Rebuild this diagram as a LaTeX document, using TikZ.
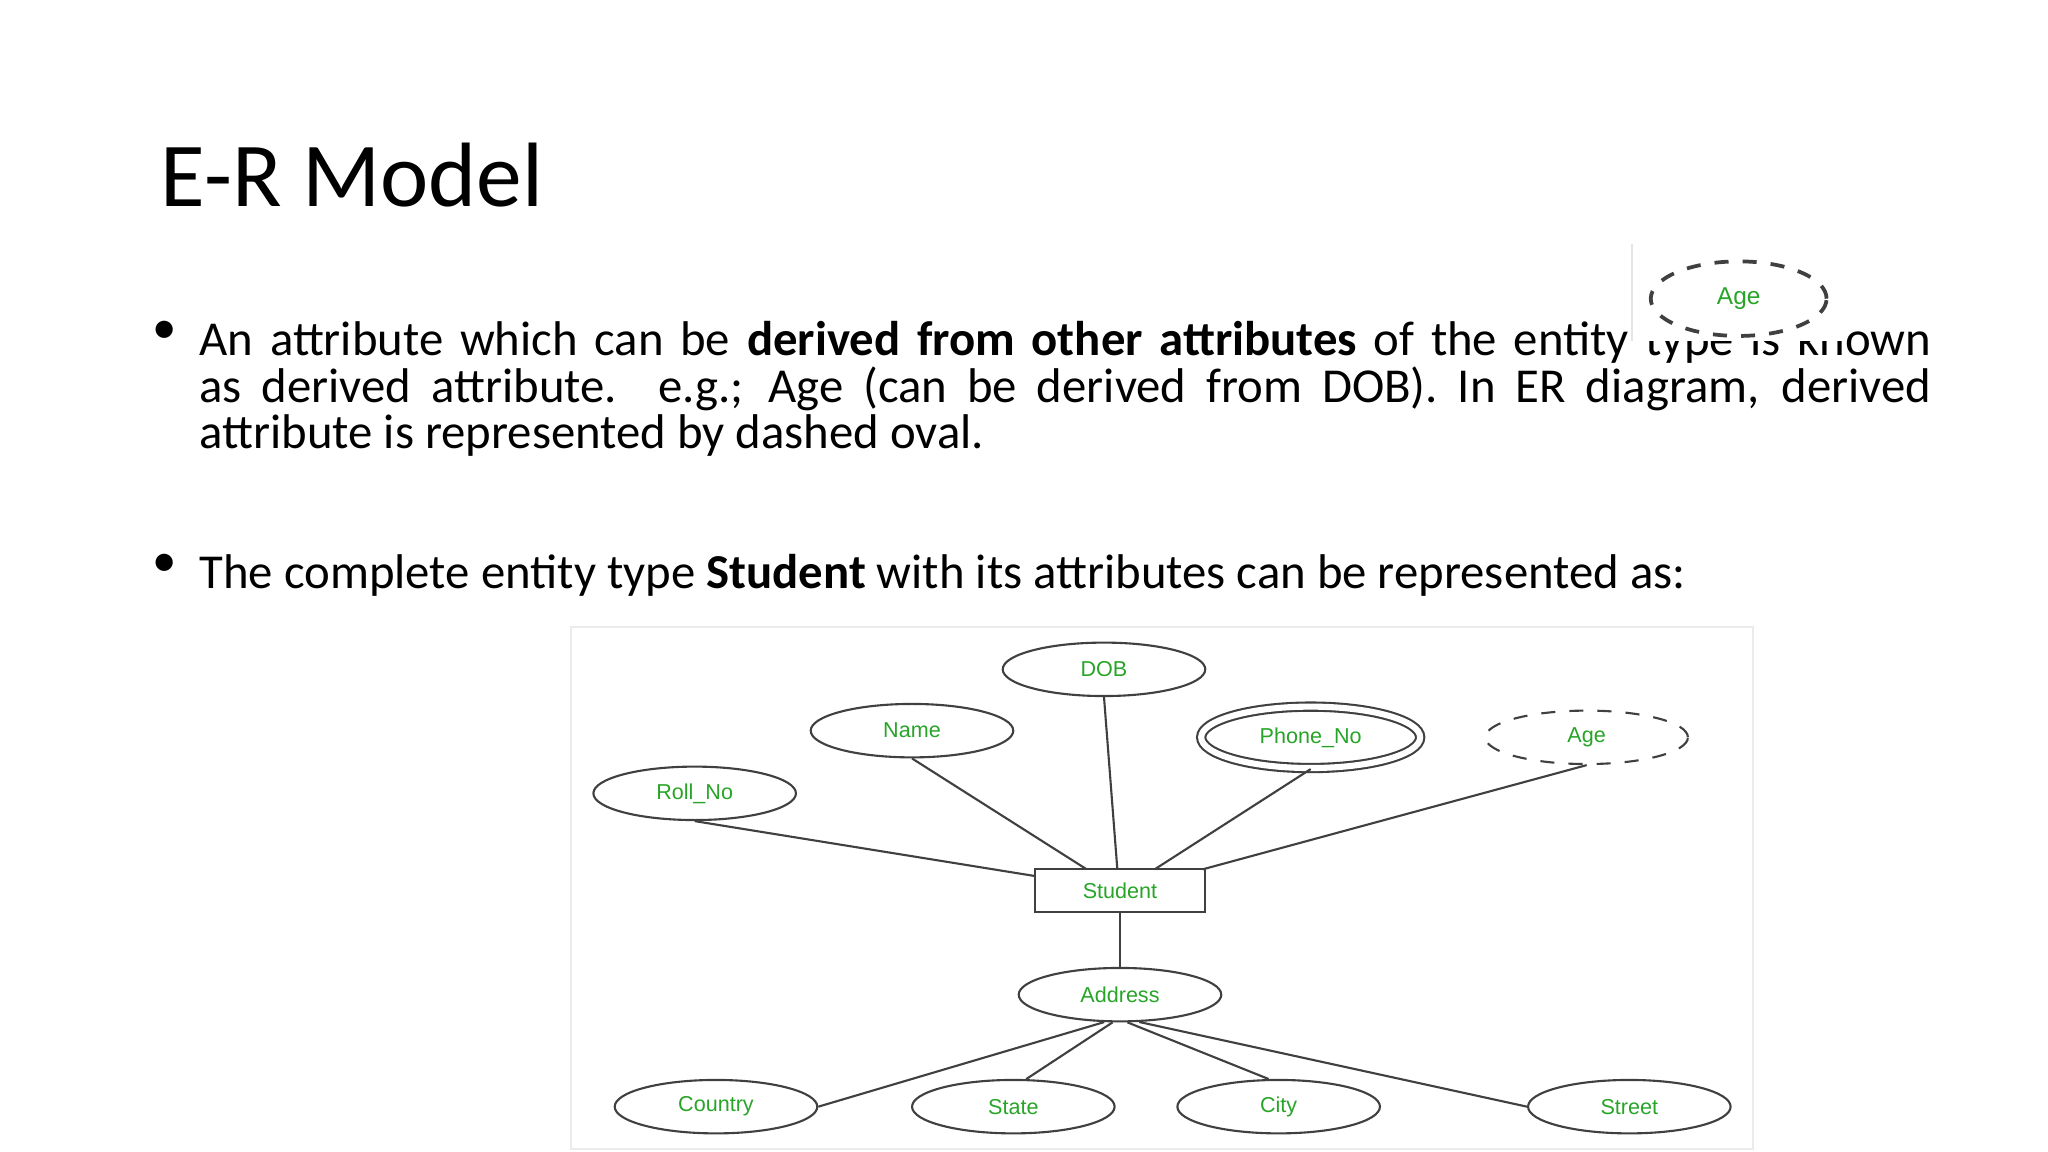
\documentclass[tikz,border=0pt]{standalone}
\usepackage{fontspec}
\setmainfont{Carlito}
\newfontfamily\lab{Liberation Sans}
\usetikzlibrary{shapes.geometric}
\definecolor{lg}{RGB}{40,165,40}
\begin{document}
\begin{tikzpicture}[x=0.01cm,y=-0.01cm,
 attr/.style={draw=black!75,ellipse,minimum width=43.2pt,minimum height=11.4pt,inner sep=0pt,font=\lab\fontsize{4.6}{5}\selectfont,text=lg,line width=0.45pt},
 conn/.style={draw=black!75,line width=0.45pt},
 body/.style={inner sep=0,font=\fontsize{10.4}{10}\selectfont}]
\useasboundingbox (0,0) rectangle (1536,864);
\fill[white] (0,0) rectangle (1536,864);
\node[anchor=base west,font=\fontsize{19.5}{22}\selectfont,inner sep=0] (title) at (120,155) {E-R Model};
\node[body,anchor=north west,text width=12.98cm,align=justify] (p1) at (149,240)
 {\hyphenpenalty=10000 An attribute which can be \textbf{derived from other attributes} of the entity type is known\linebreak as derived attribute. e.g.; Age (can be derived from DOB). In ER diagram, derived\linebreak attribute is represented by dashed oval.};
\node[body,anchor=north east] (b1) at (133,240) {•};
\node[body,anchor=north west] (p2) at (149,415)
 {The complete entity type \textbf{Student} with its attributes can be represented as:};
\node[body,anchor=north east] (b2) at (133,415) {•};
% inset Age
\fill[white] (1224,183) rectangle (1384,256);
\draw[black!10] (1224,183) -- (1224,256);
\node[attr,dashed,minimum width=37.5pt,minimum height=15.9pt,line width=0.8pt,font=\lab\fontsize{5.2}{6}\selectfont] (agetop) at (1304,224) {Age};
% diagram
\draw[black!8,fill=white] (428,470) rectangle (1315,862);
\node[attr] (dob) at (828,502) {DOB};
\node[attr] (name) at (684,548) {Name};
\node[attr,double,double distance=1.3pt,minimum width=46.7pt,minimum height=13.1pt] (phone) at (983,553) {Phone\_No};
\node[attr,dashed] (age) at (1190,553) {Age};
\node[attr] (roll) at (521,595) {Roll\_No};
\node[draw=black!75,line width=0.45pt,minimum width=36.4pt,minimum height=9.1pt,inner sep=0,font=\lab\fontsize{4.6}{5}\selectfont,text=lg] (stu) at (840,668) {Student};
\node[attr] (addr) at (840,746) {Address};
\node[attr] (country) at (537,830) {Country};
\node[attr] (state) at (760,830) {State};
\node[attr] (city) at (959,830) {City};
\node[attr] (street) at (1222,830) {Street};
\coordinate (s1) at (776,657);
\coordinate (s2) at (815,652);
\coordinate (s3) at (838,652);
\coordinate (s4) at (866,652);
\coordinate (s5) at (902,652);
\draw[conn] (roll.south) -- (s1);
\draw[conn] (name.south) -- (s2);
\draw[conn] (dob.south) -- (s3);
\draw[conn] (phone.south) -- (s4);
\draw[conn] (age.south) -- (s5);
\draw[conn] (stu.south) -- (addr.north);
\draw[conn] (addr.-120) -- (country.east);
\draw[conn] (addr.-105) -- (state.65);
\draw[conn] (addr.-75) -- (city.110);
\draw[conn] (addr.-55) -- (street.west);
\end{tikzpicture}
\end{document}
